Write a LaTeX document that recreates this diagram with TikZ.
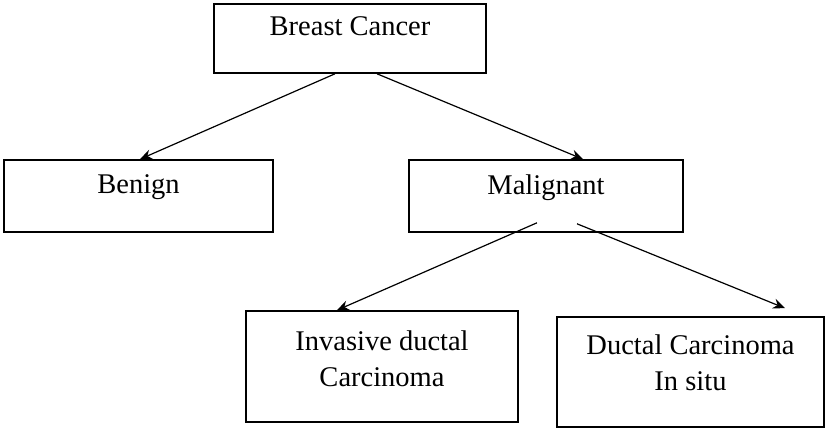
\documentclass[tikz,border=0pt]{standalone}
\usepackage{fontspec}
\setmainfont{Liberation Serif}
\usetikzlibrary{positioning,arrows.meta}

\begin{document}
\begin{tikzpicture}[
		x=0.5bp, y=-0.5bp,
		box/.style 2 args={draw, line width=0.8bp, minimum width=#1, minimum height=#2, inner sep=0pt},
		txt/.style={font=\fontsize{14.3}{18}\selectfont, inner sep=0pt, align=center, anchor=north},
		arr/.style={-{Stealth[length=6bp, width=5bp, inset=2bp]}, line width=0.6bp}
		]
		\useasboundingbox (0,0) rectangle (826,428);
		
		% ===== boxes =====
		\node[box={136bp}{34.5bp}, label={[txt, label distance=-6.5bp]north:Breast Cancer}] (cancer) at (350,38.5) {};
		\node[box={134.5bp}{36bp}, label={[txt, label distance=-7.5bp]north:Benign}] (benign) at (138.5,196) {};
		\node[box={137bp}{36bp}, label={[txt, label distance=-7.5bp]north:Malignant}] (malig) at (546,196) {};
		\node[box={136bp}{55.5bp}, label={[txt, label distance=-10bp]north:Invasive ductal\\Carcinoma}] (invasive) at (382,366.5) {};
		\node[box={133.5bp}{55bp}, label={[txt, label distance=-9bp]north:Ductal Carcinoma\\In situ}] (ductal) at (690.5,372) {};
		
		% ===== arrows =====
		\draw[arr] ([xshift=-7.5bp]cancer.south) -- ([xshift=0.75bp]benign.north);
		\draw[arr] ([xshift=13.5bp]cancer.south) -- ([xshift=18.5bp]malig.north);
		\draw[arr] ([xshift=-4.5bp,yshift=5bp]malig.south) -- ([xshift=-22.5bp]invasive.north);
		\draw[arr] ([xshift=15.5bp,yshift=4.5bp]malig.south) -- ([xshift=47.25bp,yshift=4bp]ductal.north);
		
	\end{tikzpicture}
\end{document}
